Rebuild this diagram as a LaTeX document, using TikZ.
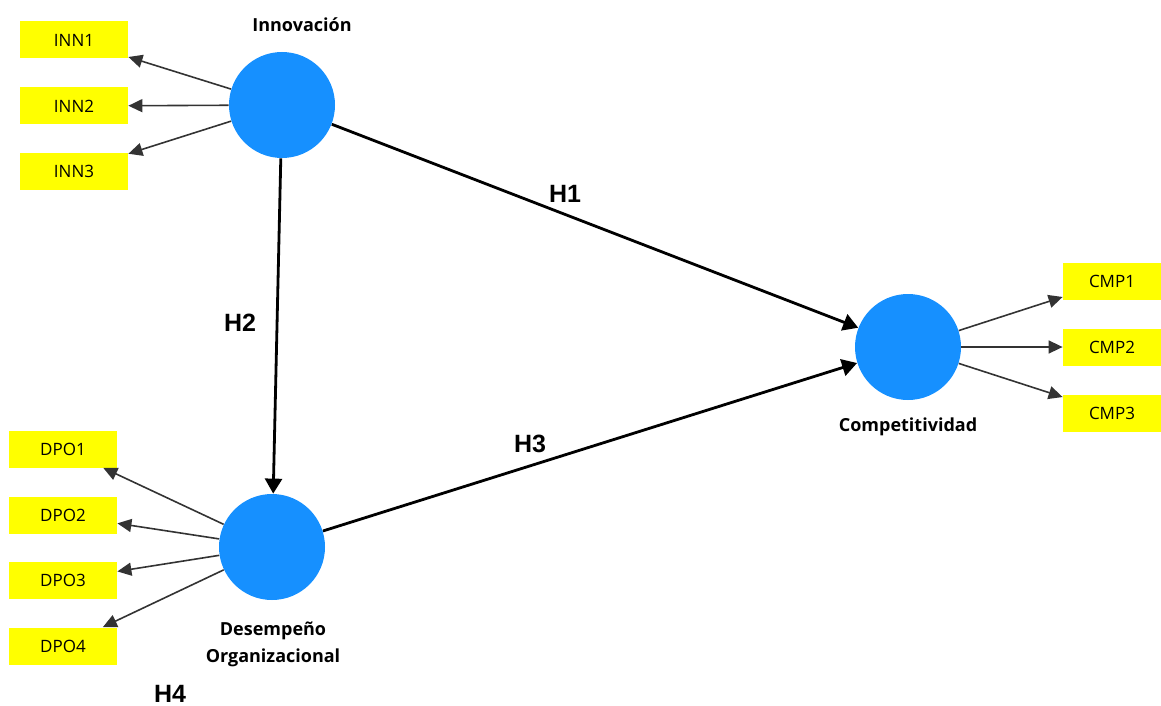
\documentclass[tikz,border=0pt]{standalone}
\usepackage{fontspec}
\setmainfont{Open Sans}
\newfontfamily\hfont{Liberation Sans}
\usetikzlibrary{arrows.meta,positioning}
\definecolor{lvblue}{RGB}{22,144,255}
\definecolor{indyellow}{RGB}{255,255,0}

\tikzset{
  latent/.style={circle,fill=lvblue,minimum size=53pt,inner sep=0pt},
  indicator/.style={rectangle,fill=indyellow,minimum width=54pt,minimum height=18.5pt,inner sep=0pt,font=\fontsize{8.5}{10}\selectfont},
  lvlabel/.style={font=\bfseries\fontsize{9}{13.5}\selectfont,align=center},
  hyp/.style={font=\hfont\bfseries\fontsize{12.5}{14}\selectfont},
  structural/.style={-{Triangle[length=7.5pt,width=8.5pt]},line width=1.4pt},
  loading/.style={-{Triangle[length=7pt,width=6.5pt]},line width=0.8pt,draw=black!80}
}

\begin{document}
\begin{tikzpicture}[x=0.5pt,y=-0.5pt]
\useasboundingbox (0,0) rectangle (1161,706);
% latent variables
\node[latent] (inn) at (282,105) {};
\node[latent] (cmp) at (908,347) {};
\node[latent] (dpo) at (272,547) {};
\node[lvlabel] (innlab) at (302,25) {Innovación};
\node[lvlabel] (cmplab) at (908,427) {Competitividad};
\node[lvlabel] (dpolab) at (273,644) {Desempeño\\Organizacional};
% indicators
\foreach \i/\y in {1/40,2/106,3/171}
  \node[indicator] (inn\i) at (74,\y) {INN\i};
\foreach \i/\y in {1/281,2/347,3/413}
  \node[indicator,minimum width=49pt] (cmp\i) at (1112,\y) {CMP\i};
\foreach \i/\y in {1/449,2/515,3/580,4/646}
  \node[indicator] (dpo\i) at (63,\y) {DPO\i};
% loadings
\foreach \i in {1,2,3} \draw[loading] (inn) -- (inn\i);
\foreach \i in {1,2,3} \draw[loading] (cmp) -- (cmp\i);
\foreach \i in {1,2,3,4} \draw[loading] (dpo) -- (dpo\i);
% hypotheses
\draw[structural] (inn) -- (cmp);
\draw[structural] (inn) -- (dpo);
\draw[structural] (dpo) -- (cmp);
\node[hyp] (h1) at (565,194) {H1};
\node[hyp] (h2) at (240,323) {H2};
\node[hyp] (h3) at (530,444) {H3};
\node[hyp,anchor=base] (h4) at (170,702) {H4};
\end{tikzpicture}
\end{document}
